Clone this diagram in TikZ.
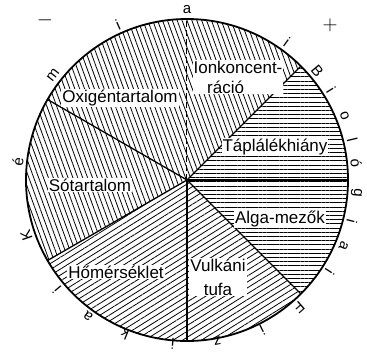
\documentclass[tikz,border=0pt]{standalone}
\usepackage{fontspec}
\setmainfont{Liberation Sans}
\usetikzlibrary{patterns.meta}

\begin{document}
\begin{tikzpicture}[
    x=1pt, y=1pt,
    steep/.style={pattern={Lines[angle=110,distance=4.6pt,line width=0.8pt]}},
    flat/.style={pattern={Lines[angle=0,distance=4.2pt,line width=0.8pt]}},
    slant/.style={pattern={Lines[angle=32,distance=5pt,line width=0.8pt]}},
    radial/.style={line width=1.3pt},
    factor/.style={fill=white, inner sep=1pt, font=\fontsize{17}{20}\selectfont},
    rim/.style={inner sep=0pt, font=\fontsize{15}{17}\selectfont},
    sign/.style={inner sep=0pt, font=\fontsize{22}{24}\selectfont\bfseries}
]
    \useasboundingbox (-187,-174) rectangle (180,180);
    \coordinate (O) at (0,0);

    \fill[steep] (O) -- (45:161) arc (45:150:161) -- cycle;
    \fill[steep] (O) -- (150:161) arc (150:210:161) -- cycle;
    \fill[slant] (O) -- (210:161) arc (210:315:161) -- cycle;
    \fill[flat] (O) -- (-45:161) arc (-45:45:161) -- cycle;

    \draw[radial] (O) -- (45:161);
    \draw[radial] (O) -- (150:161);
    \draw[radial] (O) -- (210:161);
    \draw[radial] (O) -- (270:161);
    \draw[radial] (O) -- (315:161);
    \draw[radial] (O) -- (0:161);
    \draw[line width=1pt, dash pattern=on 6pt off 3pt] (O) -- (90:161);
    \draw[line width=1.8pt] (O) circle (161);

    \node[factor, align=left] (ion) at (51,103) {Ionkoncent-\\\hspace*{0.8em}ráció};
    \node[factor] (tap) at (88,33) {Táplálékhiány};
    \node[factor] (oxi) at (-67,82) {Oxigéntartalom};
    \node[factor] (so) at (-97,-5) {Sótartalom};
    \node[factor] (hom) at (-71,-92) {Hőmérséklet};
    \node[factor] (alga) at (93,-39) {Alga-mezők};
    \node[factor, align=center] (tufa) at (31,-97) {Vulkáni\\[4pt]tufa};

    \foreach \ch/\ang/\rad [count=\i] in {K/199/170, é/174/170, m/142/170,
        i/114/170, a/90/170, i/54/170, B/40/170, i/32/170, o/22/170,
        l/13.5/170, ó/5.7/170, g/-4.4/170, i/-14/170, a/-22.8/170,
        i/-32.8/170, F/-48.7/170, i/-63.4/168, z/-79.4/164, i/-95/164,
        k/-112/166, a/-126/168, i/-140/170}
        \node[rim, rotate=\ang-90] (c\i) at (\ang:\rad) {\ch};

    \node[sign] (minus) at (-142,160) {$-$};
    \node[sign] (plus) at (143,155) {$+$};
\end{tikzpicture}
\end{document}
